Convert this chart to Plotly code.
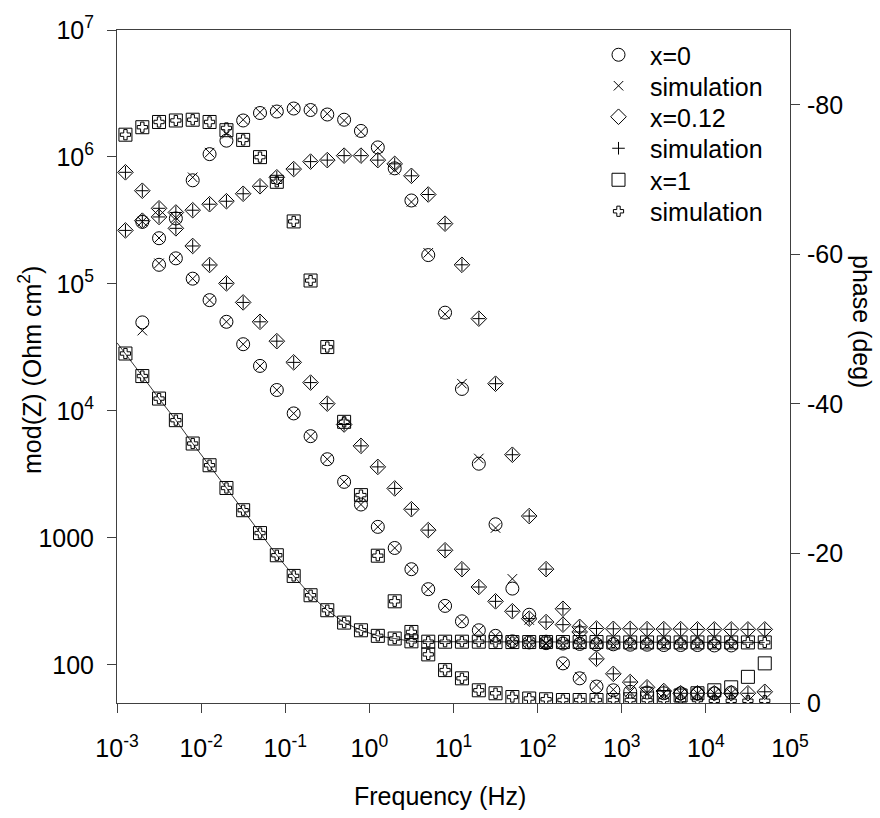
import plotly.graph_objects as go

# ---------------- data ----------------
freq = [0.00126, 0.002, 0.00316, 0.00501, 0.00794, 0.0126, 0.02, 0.0316, 0.0501, 0.0794,
        0.126, 0.2, 0.316, 0.501, 0.794, 1.26, 2.0, 3.16, 5.01, 7.94,
        12.6, 20.0, 31.6, 50.1, 79.4, 126, 200, 316, 501, 794,
        1260, 2000, 3160, 5010, 7940, 12600, 20000, 31600, 50100]

# x=0 (circles) measured / simulated (x)
mod_x0 = [None, 308000, 229000, 159000, 110000, 74500, 50300, 33500, 22600, 14600,
          9550, 6320, 4160, 2760, 1830, 1220, 832, 566, 394, 291,
          220, 187, 169, 153, 150, 148, 147, 146, 145, 145,
          144, 144, 143, 143, 143, 142, 142, None, None]
ph_x0 = [None, -50.9, -58.6, -64.8, -69.9, -73.4, -75.2, -77.9, -78.9, -79.1,
         -79.5, -79.3, -78.7, -78.0, -76.5, -74.3, -71.5, -67.2, -59.9, -52.2,
         -42.0, -32.0, -23.9, -15.3, -11.8, -8.2, -5.3, -3.3, -2.2, -1.7,
         -1.5, -1.4, -1.3, -1.3, -1.3, -1.3, -1.4, None, None]
mod_sim0 = [None, 310000, 230000, 160000, 110000, 74500, 50300, 33500, 22600, 14600,
            9550, 6320, 4160, 2760, 1830, 1220, 832, 566, 394, 291,
            220, 187, 169, 153, 150, 148, 147, 146, 145, 145,
            144, 144, 143, 143, 143, 142, 142, None, None]
ph_sim0 = [None, -49.8, -58.8, -64.9, -70.3, -73.6, -76.1, -78.0, -79.0, -79.3,
           -79.6, -79.4, -78.8, -77.9, -76.4, -74.2, -71.3, -67.0, -60.2, -52.0,
           -42.7, -32.7, -23.4, -16.6, -11.1, -7.9, -5.2, -3.5, -2.4, -1.8,
           -1.5, -1.4, -1.3, -1.3, -1.3, -1.3, -1.3, None, None]

# x=0.12 (diamonds) measured / simulated (+)
mod_x012 = [757000, 542000, 394000, 274000, 199000, 141000, 101000, 71500, 50300, 35400,
            24100, 16700, 11400, 7810, 5300, 3620, 2450, 1680, 1150, 798,
            566, 410, 316, 264, 231, 217, 207, 199, 193, 192,
            192, 191, 191, 191, 190, 190, 190, 190, 190]
ph_x012 = [-63.2, -64.5, -65.0, -65.6, -65.9, -66.7, -67.1, -68.1, -69.1, -70.3,
           -71.4, -72.4, -72.6, -73.2, -73.2, -72.6, -72.1, -70.5, -68.0, -64.1,
           -58.6, -51.4, -42.7, -33.2, -25.0, -17.9, -12.6, -9.5, -5.9, -3.9,
           -2.8, -2.1, -1.6, -1.3, -1.3, -1.3, -1.3, -1.3, -1.5]
mod_sim012 = list(mod_x012)
ph_sim012 = list(ph_x012)

# x=1 (squares) measured / simulated (cross)
mod_x1 = [28300, 18800, 12500, 8450, 5530, 3730, 2470, 1650, 1090, 729,
          501, 353, 269, 215, 187, 169, 161, 153, 152, 152,
          152, 152, 151, 151, 151, 151, 151, 151, 151, 150,
          150, 150, 150, 150, 150, 150, 150, 150, 150]
ph_x1 = [-76.0, -77.0, -77.7, -77.9, -78.0, -77.7, -76.6, -75.3, -73.0, -69.7,
         -64.4, -56.5, -47.6, -37.6, -27.8, -19.7, -13.6, -9.5, -6.5, -4.4,
         -3.3, -1.7, -1.3, -0.8, -0.6, -0.5, -0.4, -0.4, -0.4, -0.4,
         -0.5, -0.6, -0.8, -1.0, -1.3, -1.7, -2.1, -3.5, -5.3]
mod_sim1 = list(mod_x1)
ph_sim1 = [-76.0, -77.0, -77.7, -77.9, -78.0, -77.7, -76.9, -75.3, -73.0, -69.7,
           -64.4, -56.5, -47.6, -37.6, -27.8, -19.7, -13.6, -9.5, -6.5, -4.4,
           -3.3, -1.7, -1.3, -0.8, -0.6, -0.5, -0.4, -0.4, -0.4, -0.4,
           -0.4, -0.4, -0.4, -0.4, -0.4, -0.3, -0.3, -0.3, -0.3]
sim1_line_start_freq = 0.001
sim1_line_start_mod = 34400

x_ticks = [1e-3, 1e-2, 1e-1, 1e0, 1e1, 1e2, 1e3, 1e4, 1e5]
x_ticktext = ["10<sup>-3</sup>", "10<sup>-2</sup>", "10<sup>-1</sup>", "10<sup>0</sup>",
              "10<sup>1</sup>", "10<sup>2</sup>", "10<sup>3</sup>", "10<sup>4</sup>", "10<sup>5</sup>"]
y_ticks = [100, 1000, 1e4, 1e5, 1e6, 1e7]
y_ticktext = ["100", "1000", "10<sup>4</sup>", "10<sup>5</sup>", "10<sup>6</sup>", "10<sup>7</sup>"]
y2_ticks = [0, -20, -40, -60, -80]
y2_ticktext = ["0", "-20", "-40", "-60", "-80"]

FONT = "Arial, 'Liberation Sans', sans-serif"
AX = "#404040"

L, R, T, B = 117, 90, 30, 115
W, H = 880, 818
pw, ph_ = W - L - R, H - T - B

def px(xp):
    return (xp - L) / pw

def py(yp):
    return (H - B - yp) / ph_

fig = go.Figure()

# simulation line for x=1 modulus
fig.add_trace(go.Scatter(x=[sim1_line_start_freq] + freq, y=[sim1_line_start_mod] + mod_sim1,
                         mode="lines", line=dict(color="black", width=0.8),
                         showlegend=False, yaxis="y", hoverinfo="skip"))

series = [
    ("x=0", mod_x0, ph_x0, "circle-open", 13),
    ("simulation", mod_sim0, ph_sim0, "x-thin", 9.5),
    ("x=0.12", mod_x012, ph_x012, "diamond-open", 12),
    ("simulation", mod_sim012, ph_sim012, "cross-thin", 9),
    ("x=1", mod_x1, ph_x1, "square-open", 13),
    ("simulation", mod_sim1, ph_sim1, "cross-open", 8.5),
]
legend_rows = [55, 86, 117, 148.5, 180, 211.5]

legends = {}
for k, (name, mod, ph, sym, size) in enumerate(series):
    lg = "legend" if k == 0 else f"legend{k + 1}"
    mk = dict(symbol=sym, size=size, color="black", line=dict(color="black", width=1))
    fig.add_trace(go.Scatter(x=freq, y=mod, mode="markers", name=name, marker=mk,
                             legendgroup=f"g{k}", legend=lg, showlegend=True, yaxis="y"))
    fig.add_trace(go.Scatter(x=freq, y=ph, mode="markers", name=name, marker=mk,
                             legendgroup=f"g{k}", legend=lg, showlegend=False, yaxis="y2"))
    legends[lg] = dict(x=px(587), y=py(legend_rows[k] - 23), xanchor="left", yanchor="top",
                       bgcolor="rgba(0,0,0,0)", borderwidth=0, itemwidth=53,
                       font=dict(family=FONT, size=25, color="black"))

fig.update_layout(
    width=W, height=H,
    margin=dict(l=L, r=R, t=T, b=B),
    paper_bgcolor="white", plot_bgcolor="white",
    font=dict(family=FONT, size=25, color="black"),
    showlegend=True,
    xaxis=dict(type="log", range=[-3, 5], tickvals=x_ticks, ticktext=x_ticktext,
               ticks="outside", ticklen=9, tickcolor=AX, tickwidth=1,
               showline=True, linecolor=AX, linewidth=1, mirror=True,
               showgrid=False, zeroline=False, ticklabelstandoff=14,
               tickfont=dict(family=FONT, size=25, color="black")),
    yaxis=dict(type="log", range=[1.69897, 7], tickvals=y_ticks, ticktext=y_ticktext,
               ticks="outside", ticklen=9, tickcolor=AX, tickwidth=1,
               showline=True, linecolor=AX, linewidth=1,
               showgrid=False, zeroline=False, ticklabelstandoff=8,
               tickfont=dict(family=FONT, size=25, color="black")),
    yaxis2=dict(overlaying="y", side="right", anchor="x", range=[0, -90],
                tickvals=y2_ticks, ticktext=y2_ticktext,
                ticks="outside", ticklen=9, tickcolor=AX, tickwidth=1,
                showline=True, linecolor=AX, linewidth=1,
                showgrid=False, zeroline=False, ticklabelstandoff=2,
                tickfont=dict(family=FONT, size=25, color="black")),
    annotations=[
        dict(text="Frequency (Hz)", xref="paper", yref="paper", x=px(440), y=py(796),
             xanchor="center", yanchor="middle", showarrow=False,
             font=dict(family=FONT, size=25, color="black")),
        dict(text="mod(Z) (Ohm cm<sup>2</sup>)", xref="paper", yref="paper", x=px(30), y=py(370),
             xanchor="center", yanchor="middle", showarrow=False, textangle=-90,
             font=dict(family=FONT, size=25, color="black")),
        dict(text="phase (deg)", xref="paper", yref="paper", x=px(862), y=py(321),
             xanchor="center", yanchor="middle", showarrow=False, textangle=90,
             font=dict(family=FONT, size=25, color="black")),
    ],
    **legends,
)

fig.write_html("out.html")
